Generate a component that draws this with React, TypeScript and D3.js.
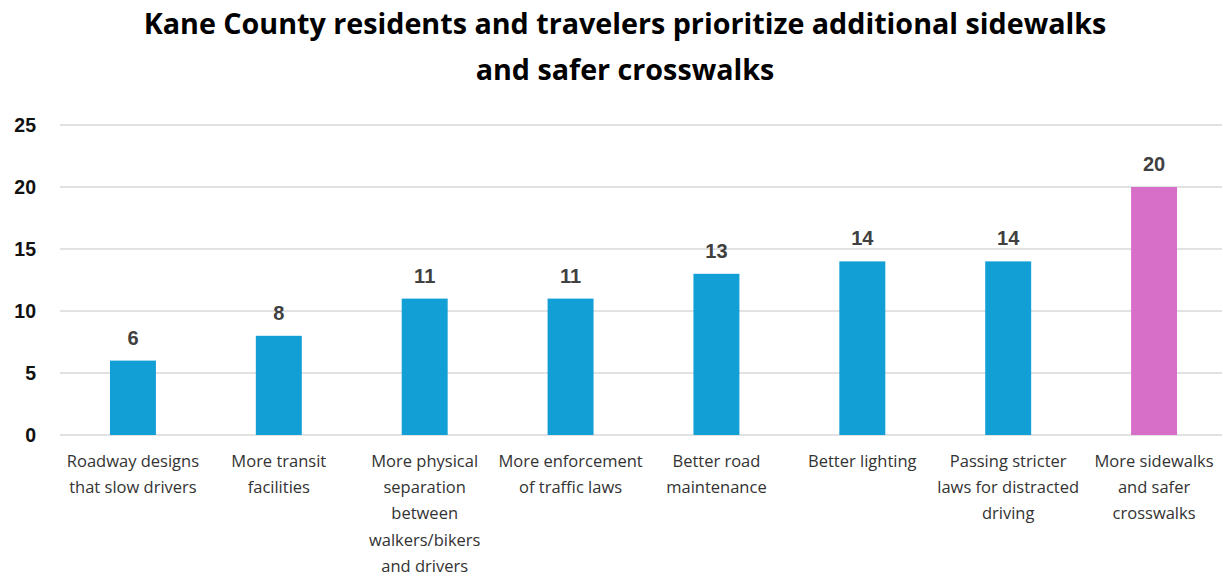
import React from "react";
import * as d3 from "d3";

const categories: string[][] = [
  ["Roadway designs", "that slow drivers"],
  ["More transit", "facilities"],
  ["More physical", "separation", "between", "walkers/bikers", "and drivers"],
  ["More enforcement", "of traffic laws"],
  ["Better road", "maintenance"],
  ["Better lighting"],
  ["Passing stricter", "laws for distracted", "driving"],
  ["More sidewalks", "and safer", "crosswalks"],
];
const values: number[] = [6, 8, 11, 11, 13, 14, 14, 20];
const highlight: boolean[] = [false, false, false, false, false, false, false, true];
const yTicks: number[] = [0, 5, 10, 15, 20, 25];
const titleLines: string[] = [
  "Kane County residents and travelers prioritize additional sidewalks",
  "and safer crosswalks",
];

const W = 1223;
const H = 576;

export default function App() {
  const left = 60;
  const right = 1222;
  const top = 125;
  const bottom = 435;
  const x = d3
    .scaleBand<number>()
    .domain(values.map((_, i) => i))
    .range([left, 1227])
    .paddingInner(0.685)
    .paddingOuter(0.3425);
  const y = d3.scaleLinear().domain([0, 25]).range([bottom, top]);
  const font = "'Source Sans Pro', 'Open Sans', 'Noto Sans', sans-serif";
  return (
    <svg
      width={W}
      height={H}
      style={{ position: "absolute", left: 0, top: 0, background: "#fff" }}
    >
      {titleLines.map((t, i) => (
        <text
          key={i}
          x={625}
          y={34 + i * 46}
          textAnchor="middle"
          fontFamily={font}
          fontWeight={700}
          fontSize={28.7}
          fill="#000"
        >
          {t}
        </text>
      ))}
      {yTicks.map((t) => (
        <g key={t}>
          <line x1={left} x2={right} y1={y(t)} y2={y(t)} stroke="#d9d9d9" strokeWidth={1.6} />
          <text
            x={36}
            y={y(t) + 7}
            textAnchor="end"
            fontFamily="Arial, 'Liberation Sans', sans-serif"
            fontWeight={700}
            fontSize={19.5}
            fill="#111"
          >
            {t}
          </text>
        </g>
      ))}
      {values.map((v, i) => (
        <g key={i}>
          <rect
            x={x(i)}
            y={y(v)}
            width={x.bandwidth()}
            height={y(0) - y(v)}
            fill={highlight[i] ? "#D76EC8" : "#119FD6"}
          />
          <text
            x={(x(i) as number) + x.bandwidth() / 2}
            y={y(v) - 16}
            textAnchor="middle"
            fontFamily="Arial, 'Liberation Sans', sans-serif"
            fontWeight={700}
            fontSize={20}
            fill="#404040"
          >
            {v}
          </text>
          {categories[i].map((line, j) => (
            <text
              key={j}
              x={(x(i) as number) + x.bandwidth() / 2}
              y={466.5 + j * 26.4}
              textAnchor="middle"
              fontFamily={font}
              fontSize={16.5}
              fill="#333"
            >
              {line}
            </text>
          ))}
        </g>
      ))}
    </svg>
  );
}
